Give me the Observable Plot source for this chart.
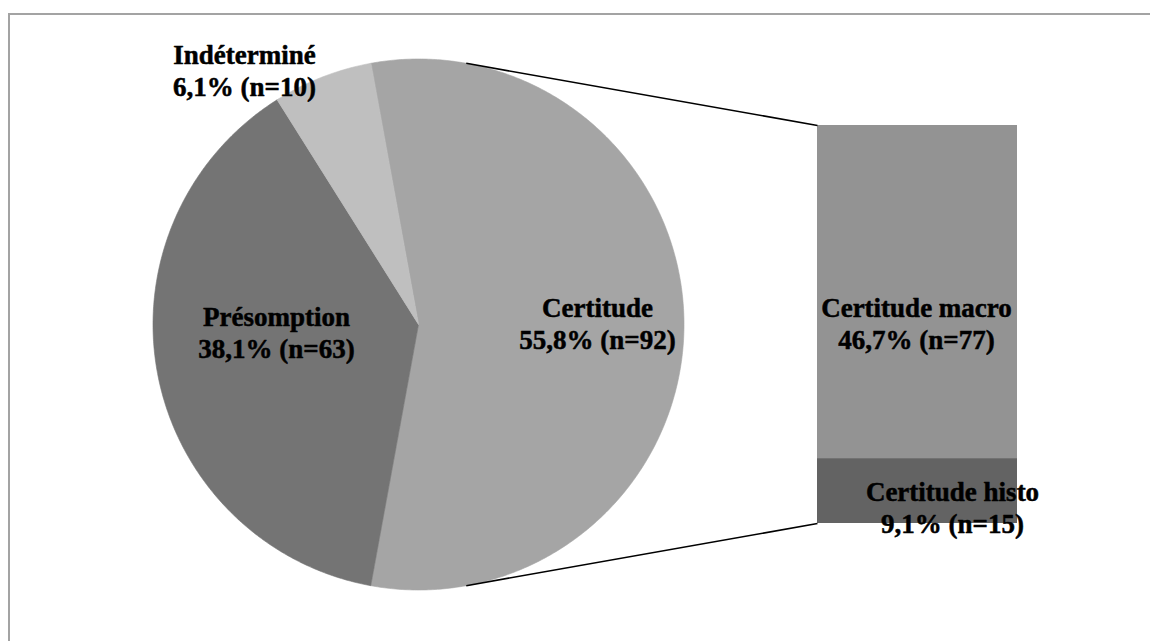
<!DOCTYPE html>
<html>
<head>
<meta charset="utf-8">
<script src="https://cdn.jsdelivr.net/npm/d3@7"></script>
<script src="https://cdn.jsdelivr.net/npm/@observablehq/plot@0.6"></script>
<style>
  html, body { margin: 0; padding: 0; background: #fff; overflow: hidden; }
  #wrap { position: relative; width: 1150px; height: 641px; }
  #frame { position: absolute; left: 8px; top: 13px; width: 1200px; height: 700px;
           border-left: 2px solid #a3a3a3; border-top: 2px solid #a3a3a3; box-sizing: border-box; }
  #chart { position: absolute; left: 0; top: 0; }
</style>
</head>
<body>
<div id="wrap"><div id="frame"></div><div id="chart"></div></div>
<script>
// ---- Data ----
const categories = ["Certitude", "Présomption", "Indéterminé"];
const counts = [92, 63, 10];
const percentLabels = ["55,8%", "38,1%", "6,1%"];
const subCategories = ["Certitude macro", "Certitude histo"];
const subCounts = [77, 15];
const subPercentLabels = ["46,7%", "9,1%"];

// ---- Styles / layout ----
const pieColors = ["#a5a5a5", "#747474", "#bfbfbf"];
const subColors = ["#939393", "#636363"];
const W = 1150, H = 641;
const cx = 418, cy = 324, R = 265.5;
const barX1 = 817, barX2 = 1017, barTop = 125, barBottom = 523;
const pieLabelPos = [[597, 322], [276, 331], [244, 69]];
const subLabelPos = [[916, 322], [952, 506]];

// ---- Pie geometry (angles clockwise from top, degrees) ----
const total = d3.sum(counts);
const spans = counts.map(c => c / total * 360);
// The "other" slice (Certitude) is centred on the right (90°)
let start = 90 - spans[0] / 2;
const slices = [];
categories.forEach((name, i) => {
  const a0 = start, a1 = start + spans[i];
  slices.push({name, a0, a1, color: pieColors[i]});
  start = a1;
});
const pt = (a, r = R) => {
  const t = a * Math.PI / 180;
  return {x: cx + r * Math.sin(t), y: cy - r * Math.cos(t)};
};
const piePts = [];
for (const s of slices) {
  piePts.push({name: s.name, color: s.color, ...pt(0, 0)});
  const n = Math.max(8, Math.ceil((s.a1 - s.a0) / 0.5));
  for (let k = 0; k <= n; k++) {
    const a = s.a0 + (s.a1 - s.a0) * k / n;
    piePts.push({name: s.name, color: s.color, ...pt(a)});
  }
}

// ---- Bar (breakdown of Certitude) ----
const subTotal = d3.sum(subCounts);
const yBar = v => barBottom - v / subTotal * (barBottom - barTop);
let cum = subTotal;
const bars = subCategories.map((name, i) => {
  const top = cum, bottom = cum - subCounts[i];
  cum = bottom;
  return {name, x1: barX1, x2: barX2, y1: yBar(top), y2: yBar(bottom), color: subColors[i]};
});

// ---- Connector lines ----
const half = spans[0] / 2;
const topPt = pt(half - 90), botPt = pt(270 - half);
const links = [
  {x1: topPt.x, y1: topPt.y, x2: barX1, y2: barTop},
  {x1: botPt.x, y1: botPt.y, x2: barX1, y2: barBottom}
];

// ---- Labels ----
const labels = [
  ...categories.map((c, i) => ({text: `${c}\n${percentLabels[i]} (n=${counts[i]})`, x: pieLabelPos[i][0], y: pieLabelPos[i][1]})),
  ...subCategories.map((c, i) => ({text: `${c}\n${subPercentLabels[i]} (n=${subCounts[i]})`, x: subLabelPos[i][0], y: subLabelPos[i][1]}))
];

const chart = Plot.plot({
  width: W, height: H,
  margin: 0,
  x: {domain: [0, W], range: [0, W], axis: null},
  y: {domain: [0, H], range: [0, H], axis: null},
  style: {background: "transparent"},
  marks: [
    Plot.line(piePts, {x: "x", y: "y", z: "name", fill: "color", stroke: "color", strokeWidth: 0.6, curve: "linear-closed"}),
    Plot.rect(bars, {x1: "x1", x2: "x2", y1: "y1", y2: "y2", fill: "color"}),
    Plot.link(links, {x1: "x1", y1: "y1", x2: "x2", y2: "y2", stroke: "#000", strokeWidth: 1.6}),
    Plot.text(labels, {x: "x", y: "y", text: "text", fontSize: 27, fontWeight: "bold",
      fontFamily: "Liberation Serif", fill: "#000", stroke: "#000", strokeWidth: 0.5,
      lineHeight: 1.18, textAnchor: "middle", lineAnchor: "middle"})
  ]
});
document.getElementById("chart").appendChild(chart);
</script>
</body>
</html>
